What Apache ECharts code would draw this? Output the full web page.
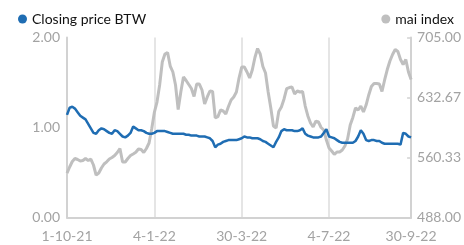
<!DOCTYPE html>
<html>
<head>
<meta charset="utf-8">
<script src="https://cdn.jsdelivr.net/npm/echarts@6/dist/echarts.min.js"></script>
<style>
  html, body { margin: 0; padding: 0; background: #fff; }
  #chart { width: 464px; height: 245px; }
</style>
</head>
<body>
<div id="chart"></div>
<script>
// Closing price BTW (left axis), sampled every other trading day
var closeBTW = [1.14, 1.22, 1.23, 1.21, 1.17, 1.13, 1.11, 1.09, 1.04, 0.99,
  0.94, 0.93, 0.97, 0.99, 0.98, 0.96, 0.94, 0.93, 0.97, 0.96,
  0.93, 0.90, 0.89, 0.91, 0.94, 1.01, 0.99, 0.97, 0.97, 0.96,
  0.94, 0.93, 0.93, 0.94, 0.96, 0.96, 0.96, 0.96, 0.95, 0.94,
  0.93, 0.93, 0.93, 0.93, 0.93, 0.92, 0.92, 0.91, 0.91, 0.91,
  0.90, 0.90, 0.90, 0.89, 0.88, 0.85, 0.78, 0.81, 0.82, 0.84,
  0.85, 0.86, 0.86, 0.86, 0.86, 0.87, 0.88, 0.90, 0.89, 0.89,
  0.88, 0.88, 0.88, 0.87, 0.85, 0.84, 0.82, 0.80, 0.78, 0.84,
  0.89, 0.96, 0.98, 0.97, 0.97, 0.97, 0.96, 0.96, 0.97, 0.99,
  0.93, 0.91, 0.90, 0.89, 0.89, 0.89, 0.90, 0.94, 0.98, 0.90,
  0.89, 0.88, 0.86, 0.84, 0.83, 0.83, 0.83, 0.83, 0.83, 0.85,
  0.90, 0.97, 0.93, 0.86, 0.85, 0.86, 0.86, 0.85, 0.85, 0.83,
  0.82, 0.82, 0.82, 0.82, 0.82, 0.82, 0.81, 0.94, 0.93, 0.90,
  0.89];

// mai index (right axis)
var maiIndex = [541.6, 548.9, 555.5, 559.1, 557.9, 556.1, 556.7, 559.1, 556.7, 558.5,
  551.3, 539.2, 541.6, 547.7, 552.5, 555.1, 558.5, 560.3, 562.7, 566.4,
  571.2, 554.9, 554.9, 559.1, 562.7, 564.6, 566.6, 570.6, 570.0, 566.4,
  571.2, 577.8, 594.7, 614.6, 627.2, 647.7, 675.5, 685.1, 686.9, 670.6,
  663.4, 647.7, 618.2, 639.3, 657.4, 653.2, 648.3, 643.5, 633.9, 648.9,
  648.9, 641.7, 624.8, 633.3, 640.5, 639.9, 608.0, 609.5, 617.6, 616.4,
  612.8, 621.8, 629.7, 633.3, 639.3, 656.2, 669.4, 669.4, 663.4, 656.2,
  665.8, 680.9, 691.7, 685.1, 670.0, 662.2, 639.3, 620.0, 598.3, 595.9,
  615.8, 621.2, 630.9, 643.3, 644.7, 645.3, 636.9, 640.5, 639.3, 639.9,
  622.4, 610.4, 601.9, 597.1, 604.3, 603.1, 596.5, 593.5, 581.4, 571.8,
  568.2, 564.0, 567.0, 567.0, 569.4, 574.2, 582.6, 599.5, 608.6, 620.0,
  617.6, 622.4, 615.2, 623.6, 635.7, 645.9, 649.5, 649.5, 648.9, 639.9,
  653.8, 666.4, 676.7, 684.5, 690.5, 688.1, 678.5, 672.5, 678.5, 663.4,
  654.4];

// sample positions that carry a date label
var tickIdx = [0, 33, 66, 99, 130];
var tickLabels = ['1-10-21', '4-1-22', '30-3-22', '4-7-22', '30-9-22'];

var categories = closeBTW.map(function (v, i) { return String(i); });

var leftTicks = [0, 1, 2];
var rightMin = 488, rightMax = 705;

var font = 'Lato';
var labelGray = '#a3a3a3';
var lineGray = '#d2d2d2';

function isTick(i) {
  return tickIdx.indexOf(i) !== -1;
}

var chart = echarts.init(document.getElementById('chart'));

var option = {
  animation: false,
  textStyle: { fontFamily: font },
  legend: [
    {
      left: 13,
      top: 7,
      icon: 'circle',
      itemWidth: 9,
      itemHeight: 9,
      textStyle: { fontFamily: font, fontSize: 14, color: '#111' },
      data: ['Closing price BTW']
    },
    {
      right: 5,
      top: 7,
      icon: 'circle',
      itemWidth: 9,
      itemHeight: 9,
      textStyle: { fontFamily: font, fontSize: 14, color: '#111' },
      data: ['mai index']
    }
  ],
  grid: {
    left: 67,
    right: 51,
    top: 37.5,
    bottom: 27.5
  },
  xAxis: {
    type: 'category',
    data: categories,
    boundaryGap: false,
    axisLine: { lineStyle: { color: lineGray, width: 2 } },
    axisTick: { show: false },
    axisLabel: {
      interval: function (i) { return isTick(i); },
      formatter: function (val, i) { return tickLabels[tickIdx.indexOf(i)]; },
      color: labelGray,
      fontSize: 14,
      margin: 12,
      fontFamily: font
    },
    splitLine: {
      show: true,
      interval: function (i) { return isTick(i); },
      lineStyle: { color: '#dcdcdc', width: 1.5 }
    }
  },
  yAxis: [
    {
      type: 'value',
      min: leftTicks[0],
      max: leftTicks[leftTicks.length - 1],
      interval: 1,
      axisLine: { show: true, lineStyle: { color: lineGray, width: 2 } },
      axisTick: { show: false },
      splitLine: { show: false },
      axisLabel: {
        color: labelGray,
        fontSize: 14,
        margin: 7,
        fontFamily: font,
        formatter: function (v) { return v.toFixed(2); }
      }
    },
    {
      type: 'value',
      position: 'right',
      min: rightMin,
      max: rightMax,
      interval: (rightMax - rightMin) / 3,
      axisLine: { show: true, lineStyle: { color: lineGray, width: 2 } },
      axisTick: { show: true, inside: true, length: 4, lineStyle: { color: lineGray, width: 1.5 } },
      splitLine: { show: false },
      axisLabel: {
        color: labelGray,
        fontSize: 14,
        margin: 6,
        fontFamily: font,
        formatter: function (v) { return v.toFixed(2); }
      }
    }
  ],
  series: [
    {
      name: 'mai index',
      type: 'line',
      yAxisIndex: 1,
      data: maiIndex,
      symbol: 'none',
      color: '#bfbfbf',
      lineStyle: { width: 3, color: '#bfbfbf' }
    },
    {
      name: 'Closing price BTW',
      type: 'line',
      yAxisIndex: 0,
      data: closeBTW,
      symbol: 'none',
      color: '#1f6db3',
      lineStyle: { width: 2.5, color: '#1f6db3' }
    }
  ]
};

chart.setOption(option);
</script>
</body>
</html>
